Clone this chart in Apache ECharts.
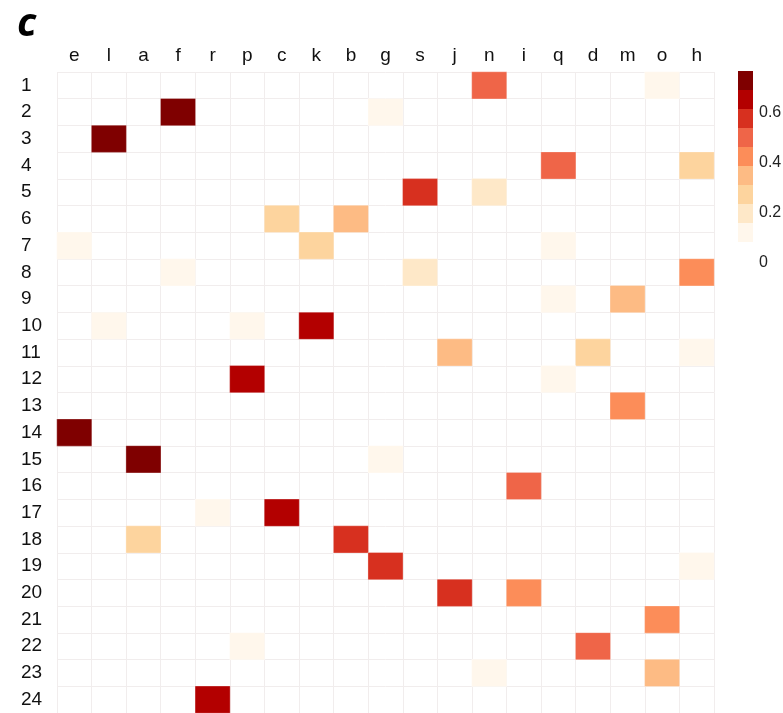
<!DOCTYPE html>
<html>
<head>
<meta charset="utf-8">
<script src="https://cdn.jsdelivr.net/npm/echarts@6/dist/echarts.min.js"></script>
<style>
  html, body { margin: 0; padding: 0; background: #fff; }
  #chart { width: 783px; height: 713px; }
</style>
</head>
<body>
<div id="chart"></div>
<script>
// column letters, left to right
const letters = ['e', 'l', 'a', 'f', 'r', 'p', 'c', 'k', 'b', 'g', 's', 'j', 'n', 'i', 'q', 'd', 'm', 'o', 'h']
// row ids, top to bottom
const rows = Array.from({ length: 24 }, (_, i) => String(i + 1))

// non-empty cells: [letter, row, value]
const cells = [
  ['n', '1', 0.52], ['o', '1', 0.1],
  ['f', '2', 0.75], ['g', '2', 0.1],
  ['l', '3', 0.75],
  ['q', '4', 0.52], ['h', '4', 0.28],
  ['s', '5', 0.6], ['n', '5', 0.2],
  ['c', '6', 0.28], ['b', '6', 0.36],
  ['e', '7', 0.1], ['k', '7', 0.28], ['q', '7', 0.1],
  ['f', '8', 0.1], ['s', '8', 0.2], ['h', '8', 0.44],
  ['q', '9', 0.1], ['m', '9', 0.36],
  ['l', '10', 0.1], ['p', '10', 0.1], ['k', '10', 0.68],
  ['j', '11', 0.36], ['d', '11', 0.28], ['h', '11', 0.1],
  ['p', '12', 0.68], ['q', '12', 0.1],
  ['m', '13', 0.44],
  ['e', '14', 0.75],
  ['a', '15', 0.75], ['g', '15', 0.1],
  ['i', '16', 0.52],
  ['r', '17', 0.1], ['c', '17', 0.68],
  ['a', '18', 0.28], ['b', '18', 0.6],
  ['g', '19', 0.6], ['h', '19', 0.1],
  ['j', '20', 0.6], ['i', '20', 0.44],
  ['o', '21', 0.44],
  ['p', '22', 0.1], ['d', '22', 0.52],
  ['n', '23', 0.1], ['o', '23', 0.36],
  ['r', '24', 0.68]
]

// colour bins (low -> high)
const binEdges = [0, 0.16, 0.24, 0.32, 0.4, 0.48, 0.56, 0.64, 0.72, 0.8]
const binColors = ['#fff7ec', '#fee8c8', '#fdd49e', '#fdbb84', '#fc8d59', '#ef6548', '#d7301f', '#b30000', '#7f0000']
const legendTicks = ['0.6', '0.4', '0.2', '0']

const chart = echarts.init(document.getElementById('chart'))

const data = cells.map(([l, r, v]) => [letters.indexOf(l), rows.indexOf(r), v])
const pieces = binColors.map((color, i) => ({ gt: binEdges[i], lte: binEdges[i + 1], color }))

const labelStyle = {
  fontFamily: 'Liberation Sans',
  fontSize: 19,
  color: '#111'
}
const gridLine = { show: true, interval: 0, lineStyle: { color: '#f1eded', width: 1 } }

chart.setOption({
  animation: false,
  backgroundColor: '#fff',
  title: {
    text: 'c',
    left: 17,
    top: 5,
    padding: 0,
    textStyle: {
      fontFamily: 'Open Sans',
      fontStyle: 'italic',
      fontWeight: 'bold',
      fontSize: 40,
      color: '#000'
    }
  },
  grid: { left: 57, right: 69, top: 72, bottom: -2 },
  xAxis: {
    type: 'category',
    position: 'top',
    data: letters,
    axisLine: { show: false },
    axisTick: { show: false },
    axisLabel: { ...labelStyle, margin: 7, interval: 0 },
    splitLine: gridLine
  },
  yAxis: {
    type: 'category',
    inverse: true,
    data: rows,
    axisLine: { show: false },
    axisTick: { show: false },
    axisLabel: { ...labelStyle, align: 'left', margin: 36, interval: 0 },
    splitLine: gridLine
  },
  visualMap: {
    type: 'piecewise',
    pieces,
    outOfRange: { color: '#ffffff' },
    orient: 'vertical',
    left: 738,
    top: 71,
    padding: 0,
    itemWidth: 15,
    itemHeight: 19,
    itemGap: 0,
    itemSymbol: 'rect',
    showLabel: false,
    selectedMode: false,
    hoverLink: false
  },
  graphic: legendTicks.map((t, i) => ({
    type: 'text',
    left: 759,
    top: 105 + i * 50,
    style: {
      text: t,
      font: '16px Liberation Sans',
      fill: '#222'
    }
  })),
  series: [
    {
      type: 'heatmap',
      data,
      itemStyle: { borderColor: 'rgba(255,255,255,0.3)', borderWidth: 1 },
      emphasis: { disabled: true }
    }
  ]
})
</script>
</body>
</html>
